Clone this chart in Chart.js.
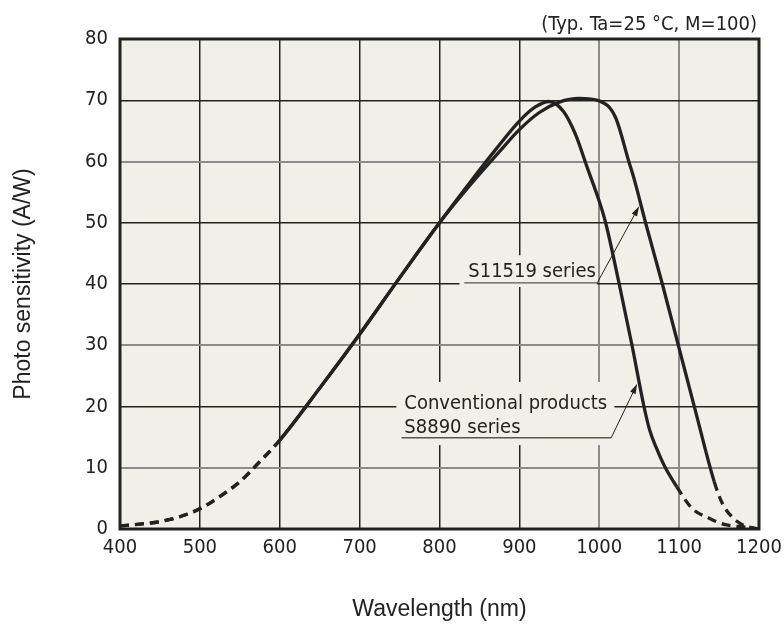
<!DOCTYPE html>
<html>
<head>
<meta charset="utf-8">
<script src="https://cdn.jsdelivr.net/npm/chart.js@4.4.1/dist/chart.umd.min.js"></script>
<style>
  html, body { margin: 0; padding: 0; background: #fff; }
</style>
</head>
<body>
<canvas id="sens" width="784" height="625"></canvas>
<script>
var wavelengthTicks = [400, 500, 600, 700, 800, 900, 1000, 1100, 1200];
var sensitivityTicks = [0, 10, 20, 30, 40, 50, 60, 70, 80];

// wavelength (nm) -> photo sensitivity (A/W)
var s11519Nm  = [400, 425, 450, 475, 500, 525, 550, 575, 600, 650, 700, 750, 800, 840, 875, 900, 925, 950, 975, 1000, 1020, 1037, 1044, 1058, 1079, 1099, 1120, 1144, 1154, 1166, 1179, 1195, 1200];
var s11519Val = [0.5, 0.8, 1.2, 2.0, 3.3, 5.3, 7.7, 11.0, 14.5, 23.0, 31.8, 41.0, 50.0, 56.4, 61.6, 65.2, 68.0, 69.7, 70.3, 69.9, 67.3, 60.0, 57.0, 50.0, 40.0, 30.0, 19.5, 7.7, 4.2, 2.0, 0.7, 0.1, 0];
var s8890Nm  = [400, 425, 450, 475, 500, 525, 550, 575, 600, 650, 700, 750, 800, 840, 870, 900, 920, 937, 955, 970, 985, 1000, 1008, 1025, 1041, 1056, 1063, 1071, 1082, 1097, 1116, 1137, 1158, 1183, 1200];
var s8890Val = [0.5, 0.8, 1.2, 2.0, 3.3, 5.3, 7.7, 11.0, 14.5, 23.0, 31.8, 41.0, 50.0, 56.9, 61.9, 66.6, 68.9, 69.8, 68.2, 64.5, 59.0, 53.5, 50.0, 40.0, 30.0, 20.0, 16.2, 13.4, 10.2, 6.9, 3.4, 1.8, 0.7, 0.3, 0];
// solid between these wavelengths, dashed outside
var s11519Solid = [600, 1144];
var s8890Solid = [600, 1097];

var tickFont = { family: 'DejaVu Sans Condensed', size: 20 };
var titleFont = { family: 'Liberation Sans', size: 23 };
var ink = '#222';
var dash = [9, 6];

function toPoints(xs, ys) {
  return xs.map(function(x, i) { return { x: x, y: ys[i] }; });
}

function dashOutside(lim) {
  return function(c) {
    var a = c.p0.parsed.x, b = c.p1.parsed.x;
    return (b <= lim[0] || a >= lim[1]) ? dash : undefined;
  };
}

function arrow(ctx, x0, y0, x1, y1) {
  var ang = Math.atan2(y1 - y0, x1 - x0);
  ctx.beginPath();
  ctx.moveTo(x0, y0);
  ctx.lineTo(x1 - 6 * Math.cos(ang), y1 - 6 * Math.sin(ang));
  ctx.stroke();
  ctx.beginPath();
  ctx.moveTo(x1, y1);
  ctx.lineTo(x1 - 10 * Math.cos(ang) + 3 * Math.sin(ang), y1 - 10 * Math.sin(ang) - 3 * Math.cos(ang));
  ctx.lineTo(x1 - 10 * Math.cos(ang) - 3 * Math.sin(ang), y1 - 10 * Math.sin(ang) + 3 * Math.cos(ang));
  ctx.closePath();
  ctx.fill();
}

var notes = {
  id: 'notes',
  beforeDraw: function(chart) {
    var a = chart.chartArea, ctx = chart.ctx;
    ctx.save();
    ctx.fillStyle = '#f1f0e8';
    ctx.fillRect(a.left, a.top, a.right - a.left, a.bottom - a.top);
    ctx.restore();
  },
  beforeDatasetsDraw: function(chart) {
    var ctx = chart.ctx, sx = chart.scales.x, sy = chart.scales.y;
    var X = function(v) { return sx.getPixelForValue(v); };
    var Y = function(v) { return sy.getPixelForValue(v); };
    ctx.save();
    // label boxes hide the grid
    ctx.fillStyle = '#f1f0e8';
    ctx.fillRect(X(825), Y(44.7), X(997) - X(825), Y(39.5) - Y(44.7));
    ctx.fillRect(X(746), Y(24), X(1019) - X(746), Y(13.7) - Y(24));

    ctx.fillStyle = ink;
    ctx.font = '20px "DejaVu Sans Condensed"';
    ctx.textAlign = 'left';
    ctx.textBaseline = 'alphabetic';
    ctx.fillText('S11519 series', X(836), Y(41.1));
    ctx.fillText('Conventional products', X(756), Y(19.6));
    ctx.fillText('S8890 series', X(756), Y(15.7));

    ctx.strokeStyle = '#555';
    ctx.lineWidth = 1.3;
    ctx.beginPath();
    ctx.moveTo(X(831), Y(40.2));
    ctx.lineTo(X(997.5), Y(40.2));
    ctx.moveTo(X(752.5), Y(14.9));
    ctx.lineTo(X(1015), Y(14.9));
    ctx.stroke();

    ctx.strokeStyle = ink;
    ctx.lineWidth = 1;
    arrow(ctx, X(997.5), Y(40.2), X(1050), Y(52.7));
    arrow(ctx, X(1015), Y(14.9), X(1047.5), Y(23.7));
    ctx.restore();
  },
  afterDatasetsDraw: function(chart) {
    var a = chart.chartArea, ctx = chart.ctx;
    ctx.save();
    ctx.strokeStyle = ink;
    ctx.lineWidth = 3;
    ctx.strokeRect(a.left, a.top, a.right - a.left, a.bottom - a.top);
    ctx.fillStyle = ink;
    ctx.font = '20px "DejaVu Sans Condensed"';
    ctx.textAlign = 'right';
    ctx.textBaseline = 'alphabetic';
    ctx.fillText('(Typ. Ta=25 \u00B0C, M=100)', a.right - 2, 30);
    ctx.restore();
  }
};

var grayX = [1000, 1100];
var grayY = [10, 30, 60];

new Chart(document.getElementById('sens'), {
  type: 'line',
  plugins: [notes],
  data: {
    datasets: [
      {
        label: 'S11519 series',
        data: toPoints(s11519Nm, s11519Val),
        borderColor: ink,
        borderWidth: 3.3,
        pointRadius: 0,
        cubicInterpolationMode: 'monotone',
        segment: { borderDash: dashOutside(s11519Solid) }
      },
      {
        label: 'Conventional products S8890 series',
        data: toPoints(s8890Nm, s8890Val),
        borderColor: ink,
        borderWidth: 3.3,
        pointRadius: 0,
        cubicInterpolationMode: 'monotone',
        segment: { borderDash: dashOutside(s8890Solid) }
      }
    ]
  },
  options: {
    responsive: false,
    animation: false,
    layout: { padding: { left: 0, right: 25, top: 39, bottom: 0 } },
    plugins: {
      legend: { display: false },
      tooltip: { enabled: false }
    },
    scales: {
      x: {
        type: 'linear',
        min: 400,
        max: 1200,
        afterBuildTicks: function(s) { s.ticks = wavelengthTicks.map(function(v) { return { value: v }; }); },
        afterFit: function(s) { s.height = 96; s.paddingLeft = 0; s.paddingRight = 0; },
        ticks: { font: tickFont, color: ink, padding: 7, maxRotation: 0, callback: function(v) { return String(v); } },
        grid: {
          drawTicks: false,
          color: function(c) { return grayX.indexOf(c.tick.value) >= 0 ? '#8c8c8c' : ink; },
          lineWidth: function(c) { return grayX.indexOf(c.tick.value) >= 0 ? 2 : 1.5; }
        },
        border: { display: false },
        title: { display: true, text: 'Wavelength (nm)', font: titleFont, color: ink, padding: { top: 0, bottom: 2 } }
      },
      y: {
        min: 0,
        max: 80,
        afterBuildTicks: function(s) { s.ticks = sensitivityTicks.map(function(v) { return { value: v }; }); },
        afterFit: function(s) { s.width = 120; s.paddingTop = 0; s.paddingBottom = 0; },
        ticks: { font: tickFont, color: ink, padding: 12, callback: function(v) { return String(v); } },
        grid: {
          drawTicks: false,
          color: function(c) { return grayY.indexOf(c.tick.value) >= 0 ? '#8c8c8c' : ink; },
          lineWidth: function(c) { return grayY.indexOf(c.tick.value) >= 0 ? 2 : 1.5; }
        },
        border: { display: false },
        title: { display: true, text: 'Photo sensitivity (A/W)', font: titleFont, color: ink, padding: { top: 10, bottom: 0 } }
      }
    }
  }
});
</script>
</body>
</html>
